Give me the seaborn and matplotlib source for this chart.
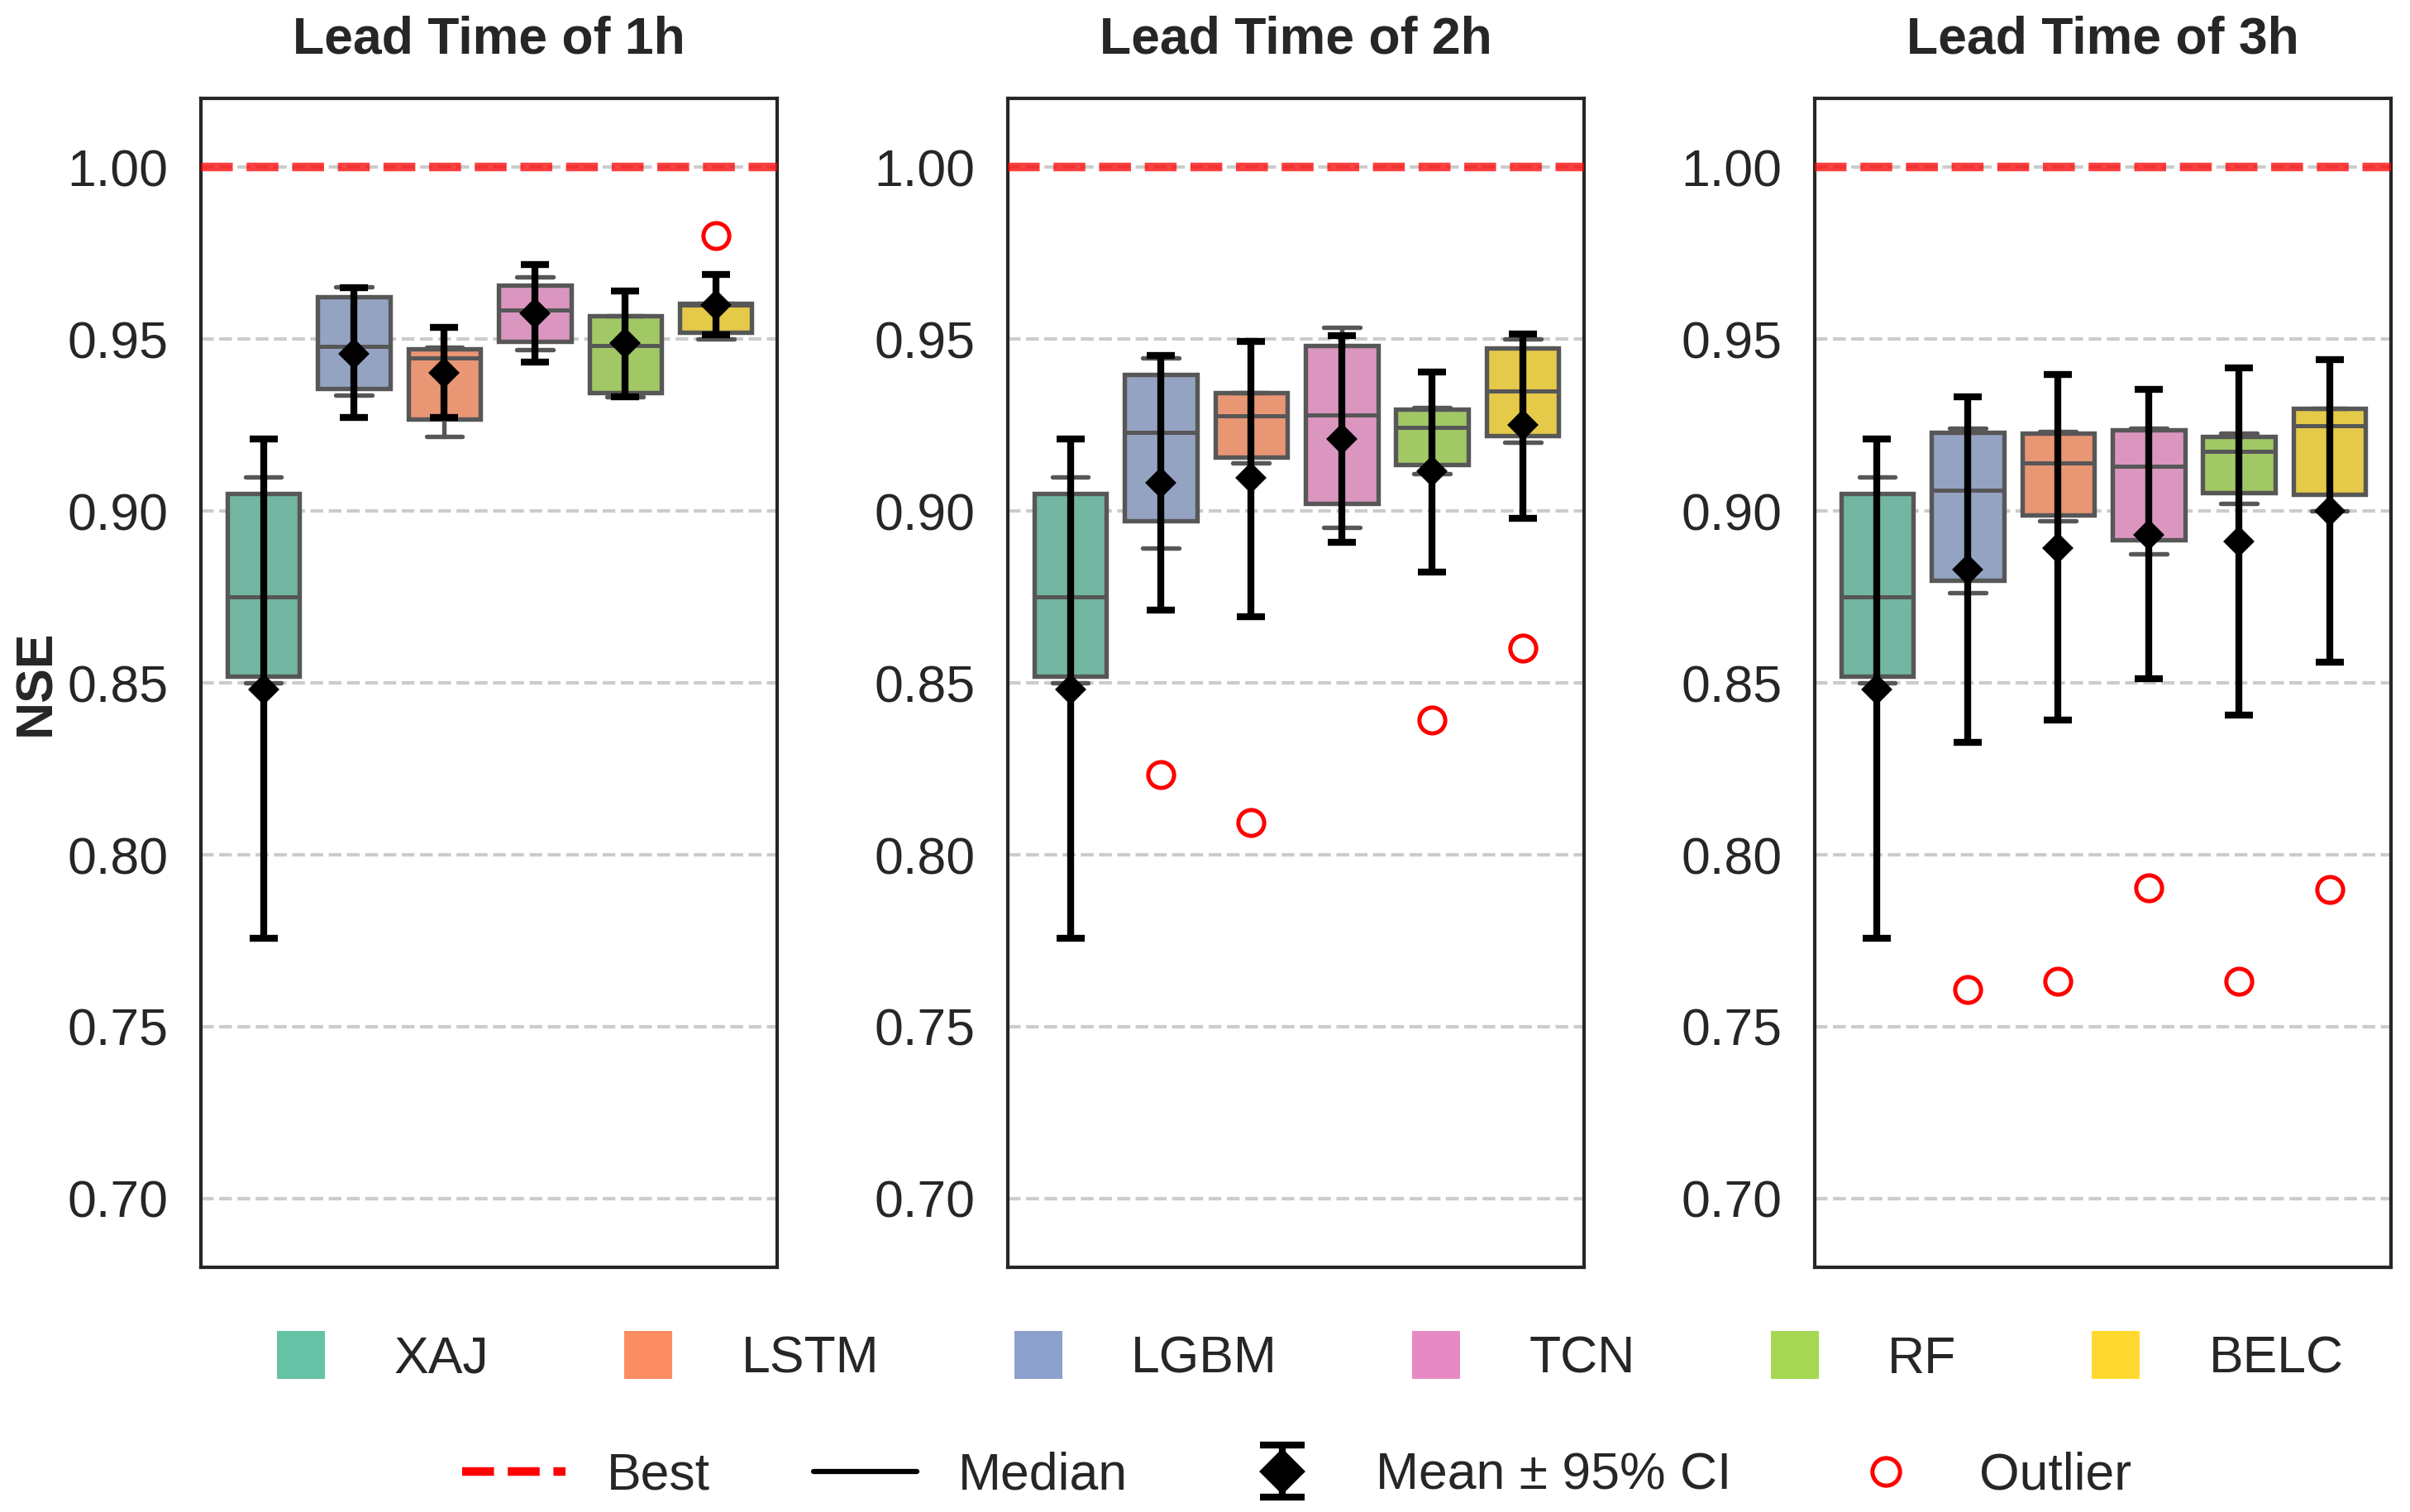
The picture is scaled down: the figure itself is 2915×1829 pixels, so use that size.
import matplotlib
matplotlib.use('Agg')

import numpy as np
import matplotlib.pyplot as plt
from matplotlib.lines import Line2D
import seaborn as sns


lead_times = ["1h", "2h", "3h"]
models = ["XAJ", "LGBM", "LSTM", "TCN", "RF", "BELC"]          # order of the boxes
legend_models = ["XAJ", "LSTM", "LGBM", "TCN", "RF", "BELC"]   # order of the palette / legend

# box statistics: one row per lead time, columns follow `models`
whislo = [[0.850, 0.9338, 0.9216, 0.9469, 0.9333, 0.950],
          [0.850, 0.8893, 0.9140, 0.8953, 0.9109, 0.920],
          [0.850, 0.8762, 0.8971, 0.8876, 0.9022, 0.900]]
q1 = [[0.852, 0.9356, 0.9267, 0.9493, 0.9344, 0.952],
      [0.852, 0.8971, 0.9156, 0.9022, 0.9136, 0.922],
      [0.852, 0.8798, 0.8989, 0.8916, 0.9053, 0.9049]]
med = [[0.875, 0.9478, 0.9444, 0.9584, 0.9482, 0.9600],
       [0.875, 0.9229, 0.9278, 0.9280, 0.9244, 0.9349],
       [0.875, 0.9060, 0.9140, 0.9131, 0.9173, 0.9249]]
q3 = [[0.905, 0.9622, 0.9471, 0.9656, 0.9567, 0.9604],
      [0.905, 0.9396, 0.9344, 0.9482, 0.9296, 0.9473],
      [0.905, 0.9229, 0.9227, 0.9236, 0.9216, 0.9298]]
whishi = [[0.910, 0.9651, 0.9476, 0.9680, 0.9567, 0.9604],
          [0.910, 0.9444, 0.9344, 0.9533, 0.9300, 0.9500],
          [0.910, 0.9240, 0.9231, 0.9240, 0.9227, 0.9298]]

# mean and 95% confidence interval
mean = [[0.848, 0.9458, 0.9402, 0.9576, 0.9489, 0.9600],
        [0.848, 0.9082, 0.9096, 0.9209, 0.9116, 0.9251],
        [0.848, 0.8829, 0.8893, 0.8931, 0.8911, 0.9000]]
ci_lo = [[0.7756, 0.9271, 0.9273, 0.9433, 0.9333, 0.9512],
         [0.7756, 0.8711, 0.8693, 0.8909, 0.8822, 0.8978],
         [0.7756, 0.8327, 0.8393, 0.8511, 0.8407, 0.8560]]
ci_hi = [[0.9209, 0.9649, 0.9533, 0.9716, 0.9640, 0.9688],
         [0.9209, 0.9453, 0.9493, 0.9511, 0.9404, 0.9516],
         [0.9209, 0.9333, 0.9396, 0.9353, 0.9416, 0.9440]]

outliers = [[[], [], [], [], [], [0.980]],
            [[], [0.8233], [0.8093], [], [0.8393], [0.860]],
            [[], [0.7609], [0.7633], [0.7904], [0.7631], [0.790]]]

yticks = [0.70, 0.75, 0.80, 0.85, 0.90, 0.95, 1.00]


sns.set_theme(style="white")
plt.rcParams['font.family'] = ['Liberation Sans', 'DejaVu Sans']
plt.rcParams['axes.linewidth'] = 1.0

palette = dict(zip(legend_models, sns.color_palette("Set2", 6)))
line_gray = '#575757'

fig = plt.figure(figsize=(2915 / 300, 1829 / 300), dpi=300)
lefts = [0.0834, 0.4182, 0.7530]
axes = [fig.add_axes([l, 0.1618, 0.2391, 0.7731]) for l in lefts]

pos = np.arange(len(models))
for i, ax in enumerate(axes):
    stats = []
    for j, m in enumerate(models):
        stats.append(dict(label=m, whislo=whislo[i][j], q1=q1[i][j], med=med[i][j],
                          q3=q3[i][j], whishi=whishi[i][j], fliers=[]))
    bp = ax.bxp(stats, positions=pos, widths=0.8, patch_artist=True, showfliers=False,
                boxprops=dict(edgecolor=line_gray, linewidth=1.3),
                medianprops=dict(color=line_gray, linewidth=1.2),
                whiskerprops=dict(color=line_gray, linewidth=1.3),
                capprops=dict(color=line_gray, linewidth=1.3))
    for patch, m in zip(bp['boxes'], models):
        patch.set_facecolor(sns.desaturate(palette[m], 0.75))
        patch.set_zorder(2)

    ox = [j for j in range(len(models)) for v in outliers[i][j]]
    oy = [v for j in range(len(models)) for v in outliers[i][j]]
    ax.plot(ox, oy, 'o', ls='none', mfc='none', mec='red', ms=7.5, mew=1.2, zorder=4)

    m_arr = np.array(mean[i])
    yerr = [m_arr - np.array(ci_lo[i]), np.array(ci_hi[i]) - m_arr]
    ax.errorbar(pos, m_arr, yerr=yerr, fmt='D', color='black', ms=5.5,
                elinewidth=2, capsize=4, capthick=2, zorder=5)

    ax.axhline(1.0, color='red', alpha=0.75, ls='--', lw=2.5, zorder=3)

    ax.set_xlim(-0.69, 5.68)
    ax.set_ylim(0.68, 1.02)
    ax.set_xticks([])
    ax.set_yticks(yticks)
    ax.set_yticklabels([f"{t:.2f}" for t in yticks])
    ax.tick_params(axis='y', length=0, pad=9.5, labelsize=15)
    ax.yaxis.grid(True, linestyle='--', color='#cccccc', linewidth=1.0)
    ax.set_axisbelow(True)
    ax.set_title(f"Lead Time of {lead_times[i]}", fontsize=15, fontweight='bold', pad=13)

axes[0].set_ylabel("NSE", fontsize=15, fontweight='bold', labelpad=2)

# legend rows
model_handles = [Line2D([], [], marker='s', ls='none', color=palette[m], ms=14, mew=0)
                 for m in legend_models]
fig.legend(model_handles, legend_models, loc='center', bbox_to_anchor=(0.538, 0.101),
           ncol=6, frameon=False, fontsize=15, columnspacing=2.08)

ci_handle = axes[0].errorbar([np.nan], [np.nan], yerr=[[0.01], [0.01]], fmt='D', color='black',
                             ms=8.5, elinewidth=2, capsize=6.5, capthick=2)
style_handles = [Line2D([], [], color='red', ls='--', lw=2.5),
                 Line2D([], [], color='black', lw=1.5),
                 ci_handle,
                 Line2D([], [], marker='o', ls='none', mfc='none', mec='red', ms=8, mew=1.2)]
fig.legend(style_handles, ["Best", "Median", "Mean ± 95% CI", "Outlier"], loc='center',
           bbox_to_anchor=(0.538, 0.024), ncol=4, frameon=False, fontsize=15)

fig.savefig("out.png", dpi=300)
